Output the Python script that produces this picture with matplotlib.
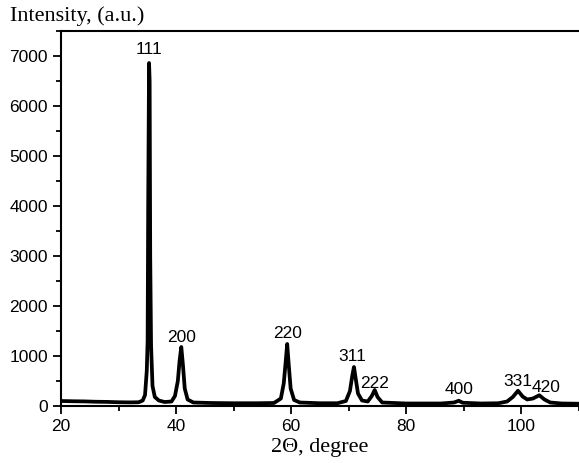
import matplotlib
matplotlib.use("Agg")
import matplotlib.pyplot as plt
from matplotlib.ticker import MultipleLocator

# XRD pattern (2theta in degrees, intensity in a.u.)
two_theta = [20, 22, 24, 26, 28, 30, 32, 33.5, 34.2, 34.6, 34.9, 35.05, 35.15, 35.3,
             35.4, 35.5, 35.65, 35.9, 36.3, 37.0, 38, 39.2, 39.8, 40.3, 40.6, 40.9,
             41.2, 41.5, 42, 43, 46, 50, 54, 57, 58.2, 58.7, 59.05, 59.3, 59.55,
             59.9, 60.5, 61.5, 65, 68, 69.5, 70.2, 70.6, 70.9, 71.2, 71.6, 72.3,
             73.3, 74.0, 74.5, 75.0, 75.8, 80, 86, 88.3, 89.1, 89.8, 93, 96, 97.5,
             98.5, 99.4, 100.2, 101, 102, 103.1, 104, 105, 107, 110]
intensity = [100, 95, 92, 85, 82, 75, 72, 75, 110, 220, 700, 1300, 4000, 6860,
             6500, 3000, 1200, 400, 180, 110, 80, 90, 200, 500, 900, 1180,
             800, 350, 130, 70, 60, 55, 55, 60, 150, 450, 900, 1240, 850,
             350, 120, 70, 55, 55, 100, 300, 600, 780, 550, 250, 110,
             90, 200, 320, 180, 70, 50, 50, 70, 105, 65, 50, 55, 90,
             180, 305, 190, 130, 150, 215, 130, 70, 50, 45]

peak_labels = ["111", "200", "220", "311", "222", "400", "331", "420"]
label_x = [35.3, 40.9, 59.4, 70.6, 74.5, 89.2, 99.4, 104.3]
label_y = [7120, 1380, 1460, 990, 460, 340, 500, 360]

fig = plt.figure(figsize=(5.79, 4.63), dpi=100)
ax = fig.add_axes([61 / 579, 1 - 406 / 463, 518 / 579, 375 / 463])

ax.plot(two_theta, intensity, color="black", lw=2.7, solid_joinstyle="round")

for lab, x, y in zip(peak_labels, label_x, label_y):
    ax.text(x, y, lab, ha="center", va="center", fontsize=12.5, family="Liberation Sans")

ax.set_xlim(20, 110)
ax.set_ylim(0, 7500)
ax.xaxis.set_major_locator(MultipleLocator(20))
ax.xaxis.set_minor_locator(MultipleLocator(10))
ax.yaxis.set_major_locator(MultipleLocator(1000))
ax.yaxis.set_minor_locator(MultipleLocator(500))
ax.tick_params(which="both", direction="out", width=1.3, labelsize=12.5)
ax.tick_params(which="major", length=6)
ax.tick_params(which="minor", length=3.5)
ax.tick_params(axis="x", which="both", top=False)
for lbl in ax.get_xticklabels() + ax.get_yticklabels():
    lbl.set_family("Liberation Sans")
for s in ["left", "bottom", "top"]:
    ax.spines[s].set_linewidth(1.5)
ax.spines["right"].set_visible(False)

ax.set_xlabel("2\u0398, degree", family="Liberation Serif", fontsize=16, labelpad=3)
fig.text(10 / 579, 1 - 16 / 463, "Intensity, (a.u.)", family="Liberation Serif",
         fontsize=16, va="center", ha="left")

fig.savefig("out.png", dpi=100)
